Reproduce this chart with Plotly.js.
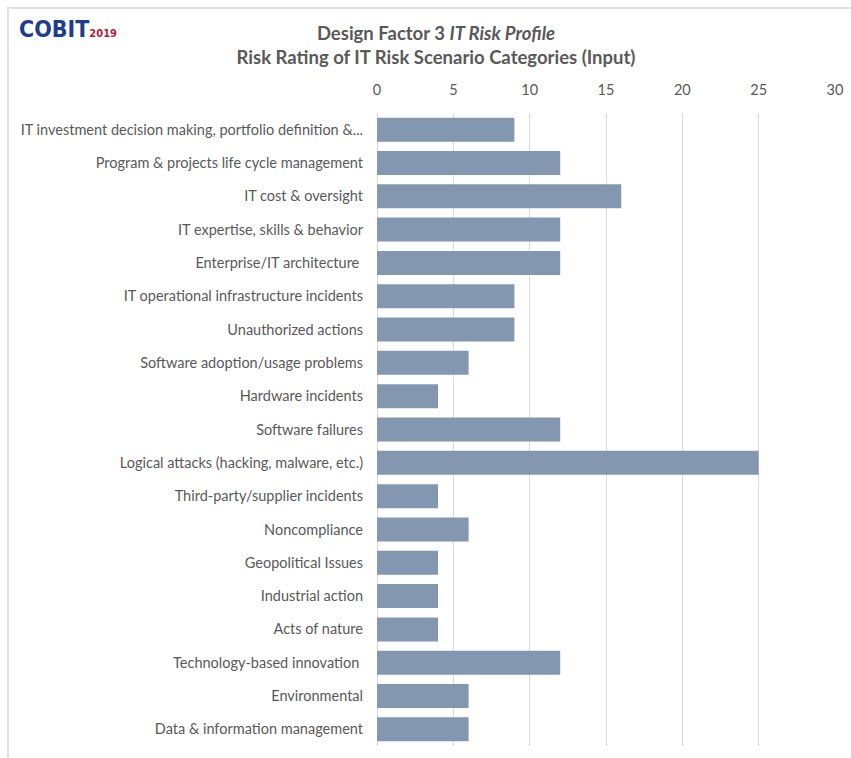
<!DOCTYPE html>
<html>
<head>
<meta charset="utf-8">
<script src="https://cdn.plot.ly/plotly-3.0.1.min.js"></script>
<style>
  html, body { margin: 0; padding: 0; background: #fff; }
  #wrap { position: relative; width: 851px; height: 758px; }
  #chart { width: 851px; height: 758px; }
  #frame { position: absolute; left: 7px; top: 7px; right: 0; bottom: 0;
           border-left: 2px solid #e3e3e3; border-top: 2px solid #e3e3e3; pointer-events: none; }
</style>
</head>
<body>
<div id="wrap">
  <div id="chart"></div>
  <div id="frame"></div>
</div>
<script>
const categories = [
  "IT investment decision making, portfolio definition &...",
  "Program & projects life cycle management",
  "IT cost & oversight",
  "IT expertise, skills & behavior",
  "Enterprise/IT architecture ",
  "IT operational infrastructure incidents",
  "Unauthorized actions",
  "Software adoption/usage problems",
  "Hardware incidents",
  "Software failures",
  "Logical attacks (hacking, malware, etc.)",
  "Third-party/supplier incidents",
  "Noncompliance",
  "Geopolitical Issues",
  "Industrial action",
  "Acts of nature",
  "Technology-based innovation ",
  "Environmental",
  "Data & information management"
];
const riskRating = [9, 12, 16, 12, 12, 9, 9, 6, 4, 12, 25, 4, 6, 4, 4, 4, 12, 6, 6];
const xTickValues = [0, 5, 10, 15, 20, 25, 30];

const FONT = "Lato, 'Open Sans', sans-serif";
const GRAY = "#595959";

const trace = {
  type: "bar",
  orientation: "h",
  x: riskRating,
  y: categories,
  marker: { color: "#8497B0", line: { width: 0 } },
  width: 0.72,
  hoverinfo: "x+y"
};

const layout = {
  width: 851,
  height: 758,
  paper_bgcolor: "#ffffff",
  plot_bgcolor: "#ffffff",
  margin: { l: 377, r: 16, t: 113, b: 12, pad: 0 },
  font: { family: FONT, color: GRAY, size: 14.5 },
  showlegend: false,
  title: {
    text: "<b>Design Factor 3 <i>IT Risk Profile</i></b><br><b>Risk Rating of IT Risk Scenario Categories (Input)</b>",
    font: { family: FONT, size: 18.5, color: GRAY },
    xref: "container", x: 436 / 851, xanchor: "center",
    yref: "container", y: 1 - 40 / 758, yanchor: "middle"
  },
  xaxis: {
    side: "top",
    range: [0, 30],
    tickvals: xTickValues,
    ticks: "",
    showline: false,
    showgrid: true,
    gridcolor: "#d9d9d9",
    gridwidth: 1,
    zeroline: true,
    zerolinecolor: "#d9d9d9",
    zerolinewidth: 1,
    tickfont: { family: FONT, size: 14.5, color: GRAY },
    ticklabelstandoff: 14,
    fixedrange: true
  },
  yaxis: {
    autorange: "reversed",
    type: "category",
    ticks: "",
    showline: false,
    showgrid: false,
    zeroline: false,
    tickfont: { family: FONT, size: 14.5, color: GRAY },
    ticklabelstandoff: 13,
    fixedrange: true
  },
  annotations: [
    {
      xref: "paper", yref: "paper",
      x: -360 / 458, y: 1 + 84 / 633,
      xanchor: "left", yanchor: "middle",
      text: "<b><span style='color:#1f3d8a'>COBIT</span><span style='color:#b5203a;font-size:11px'>2019</span></b>",
      font: { family: "'Liberation Sans Narrow', 'DejaVu Sans Condensed', sans-serif", size: 23, color: "#1f3d8a" },
      showarrow: false
    }
  ]
};

Plotly.newPlot("chart", [trace], layout, { displayModeBar: false, responsive: false });
</script>
</body>
</html>
